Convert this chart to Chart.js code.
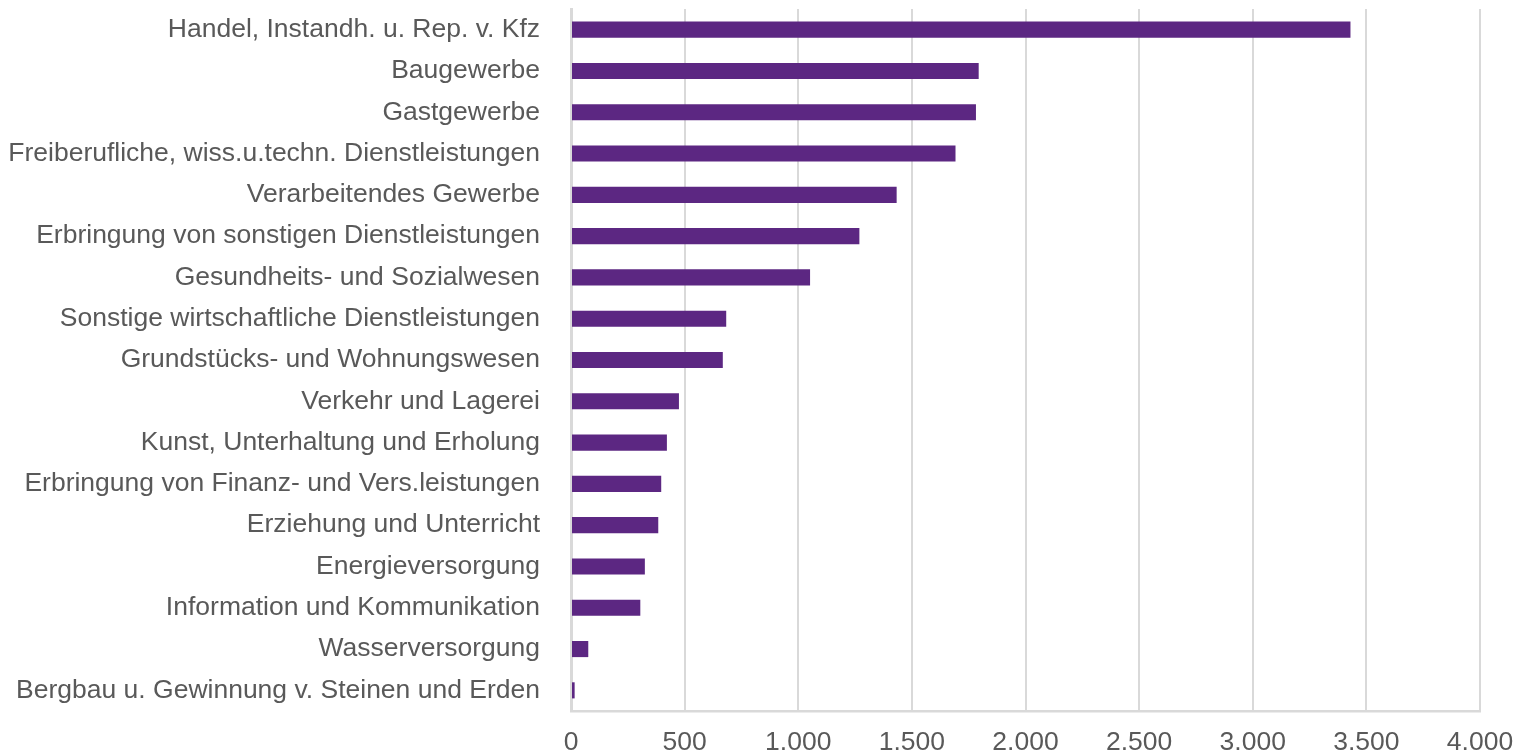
<!DOCTYPE html>
<html>
<head>
<meta charset="utf-8">
<script src="https://cdn.jsdelivr.net/npm/chart.js@4/dist/chart.umd.min.js"></script>
<style>
  html, body { margin: 0; padding: 0; background: #fff; }
  #wrap { width: 1527px; height: 753px; }
</style>
</head>
<body>
<div id="wrap"><canvas id="branchen"></canvas></div>
<script>
// Werte
const categories = [
  'Handel, Instandh. u. Rep. v. Kfz',
  'Baugewerbe',
  'Gastgewerbe',
  'Freiberufliche, wiss.u.techn. Dienstleistungen',
  'Verarbeitendes Gewerbe',
  'Erbringung von sonstigen Dienstleistungen',
  'Gesundheits- und Sozialwesen',
  'Sonstige wirtschaftliche Dienstleistungen',
  'Grundstücks- und Wohnungswesen',
  'Verkehr und Lagerei',
  'Kunst, Unterhaltung und Erholung',
  'Erbringung von Finanz- und Vers.leistungen',
  'Erziehung und Unterricht',
  'Energieversorgung',
  'Information und Kommunikation',
  'Wasserversorgung',
  'Bergbau u. Gewinnung v. Steinen und Erden'
];
const values = [3430, 1794, 1782, 1692, 1433, 1269, 1052, 683, 668, 475, 422, 397, 384, 325, 305, 76, 16];
const xTickLabels = ['0', '500', '1.000', '1.500', '2.000', '2.500', '3.000', '3.500', '4.000'];

const textColor = '#595959';
const gridColor = '#d9d9d9';
const labelFont = { family: 'Liberation Sans, Arial, sans-serif', size: 26.5 };

new Chart(document.getElementById('branchen'), {
  type: 'bar',
  data: {
    labels: categories,
    datasets: [{
      data: values,
      backgroundColor: '#5c2782',
      borderWidth: 0,
      categoryPercentage: 1,
      barPercentage: 0.39
    }]
  },
  options: {
    indexAxis: 'y',
    responsive: true,
    maintainAspectRatio: false,
    animation: false,
    layout: { padding: { top: 9, right: 47, left: 0, bottom: 0 } },
    plugins: { legend: { display: false }, tooltip: { enabled: false } },
    scales: {
      x: {
        min: 0,
        max: 4000,
        ticks: {
          stepSize: 500,
          color: textColor,
          font: labelFont,
          padding: 16,
          maxRotation: 0,
          callback: (v) => xTickLabels[Math.round(v / 500)]
        },
        grid: { color: gridColor, lineWidth: 2, drawTicks: false },
        border: { display: true, color: gridColor, width: 2.5 },
        afterFit: (scale) => {
          scale.height = 42;
          scale.paddingLeft = 0;
          scale.paddingRight = 0;
        }
      },
      y: {
        ticks: {
          color: textColor,
          font: labelFont,
          padding: 31,
          autoSkip: false
        },
        grid: { display: false, drawTicks: false },
        border: { display: true, color: gridColor, width: 3 },
        afterFit: (scale) => {
          scale.width = 571;
          scale.paddingTop = 0;
          scale.paddingBottom = 0;
        }
      }
    }
  }
});
</script>
</body>
</html>
